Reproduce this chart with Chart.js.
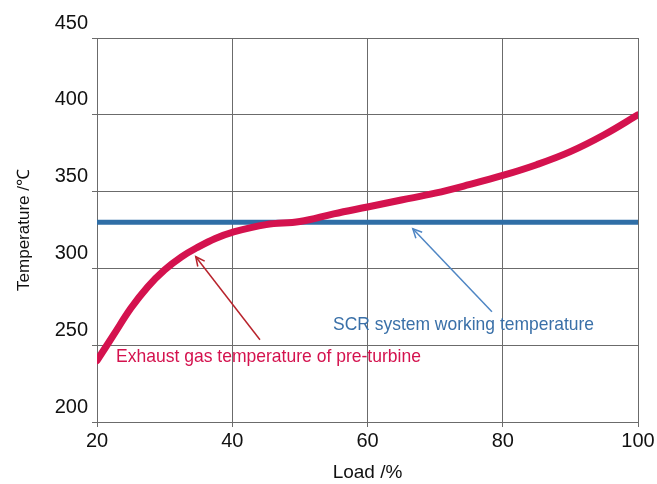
<!DOCTYPE html>
<html>
<head>
<meta charset="utf-8">
<script src="https://cdn.jsdelivr.net/npm/chart.js@4"></script>
<style>
  body { margin: 0; background: #fff; }
  #wrap { width: 657px; height: 484px; }
</style>
</head>
<body>
<div id="wrap"><canvas id="grafico" width="657" height="484"></canvas></div>
<script>
// load in %
const cargas = [20, 22.5, 25, 27.5, 30, 32.5, 35, 37.5, 40, 45, 50, 55, 60, 65, 70, 75, 80, 85, 90, 95, 100];
// exhaust gas temperature before turbine, degC
const tempEscape = [240, 257, 274, 288, 299, 307.5, 314, 319.5, 323.5, 328.5, 330.5, 335.5, 340, 344.5, 349, 354.5, 360.5, 367.5, 376, 387, 400];
// SCR working temperature
const cargasScr = [20, 100];
const tempScr = [330, 330];

const xTicks = [20, 40, 60, 80, 100];
const yTicks = [200, 250, 300, 350, 400, 450];

// labels + arrows (data coords)
const textoRojo = "Exhaust gas temperature of pre-turbine";
const textoAzul = "SCR system working temperature";
const flechaRoja = { desde: [44.1, 253.5], hasta: [34.6, 307.6] };
const flechaAzul = { desde: [78.4, 271.8], hasta: [66.7, 325.8] };
const posTextoRojo = [22.8, 242.5];
const posTextoAzul = [54.9, 263.3];

const rojo = "#d4124e";
const azul = "#2f6ea6";

function flecha(ctx, x1, y1, x2, y2, color){
  ctx.save();
  ctx.strokeStyle = color;
  ctx.lineWidth = 1.5;
  ctx.beginPath();
  ctx.moveTo(x1, y1);
  ctx.lineTo(x2, y2);
  ctx.stroke();
  const ang = Math.atan2(y2 - y1, x2 - x1);
  const l = 10;
  ctx.beginPath();
  ctx.moveTo(x2 - l * Math.cos(ang - 0.45), y2 - l * Math.sin(ang - 0.45));
  ctx.lineTo(x2, y2);
  ctx.lineTo(x2 - l * Math.cos(ang + 0.45), y2 - l * Math.sin(ang + 0.45));
  ctx.stroke();
  ctx.restore();
}

const anotaciones = {
  id: "anotaciones",
  afterDatasetsDraw(chart){
    const ctx = chart.ctx;
    const sx = chart.scales.x, sy = chart.scales.y;
    const px = v => sx.getPixelForValue(v);
    const py = v => sy.getPixelForValue(v);

    flecha(ctx, px(flechaRoja.desde[0]), py(flechaRoja.desde[1]), px(flechaRoja.hasta[0]), py(flechaRoja.hasta[1]), "#b8232c");
    flecha(ctx, px(flechaAzul.desde[0]), py(flechaAzul.desde[1]), px(flechaAzul.hasta[0]), py(flechaAzul.hasta[1]), "#4f86c4");

    ctx.save();
    ctx.font = "19px 'Liberation Sans', Arial, sans-serif";
    ctx.textBaseline = "middle";
    ctx.textAlign = "left";
    ctx.fillStyle = rojo;
    ctx.fillText(textoRojo, px(posTextoRojo[0]), py(posTextoRojo[1]), 305);
    ctx.fillStyle = "#3a70a8";
    ctx.fillText(textoAzul, px(posTextoAzul[0]), py(posTextoAzul[1]), 261);
    ctx.restore();
  }
};

const canvas = document.getElementById("grafico");
const grafica = {
  type: "line",
  data: {
    datasets: [
      {
        label: "SCR",
        data: cargasScr.map((c, i) => ({ x: c, y: tempScr[i] })),
        borderColor: azul,
        borderWidth: 5,
        pointRadius: 0,
        order: 2
      },
      {
        label: "Exhaust",
        data: cargas.map((c, i) => ({ x: c, y: tempEscape[i] })),
        borderColor: rojo,
        borderWidth: 7,
        borderCapStyle: "round",
        tension: 0.4,
        pointRadius: 0,
        order: 1
      }
    ]
  },
  plugins: [anotaciones],
  options: {
    responsive: false,
    animation: false,
    layout: { padding: { top: 38, right: 19, left: 0, bottom: 0 } },
    plugins: { legend: { display: false }, tooltip: { enabled: false } },
    scales: {
      x: {
        type: "linear",
        min: 20, max: 100,
        afterBuildTicks: s => { s.ticks = xTicks.map(v => ({ value: v })); },
        afterFit: s => { s.height = 62; },
        grid: { color: "#6b6b6b", lineWidth: 1, tickLength: 5 },
        border: { color: "#6b6b6b", width: 1 },
        ticks: { color: "#111", padding: 2, font: { size: 20, family: "'Liberation Sans', Arial, sans-serif" } },
        title: { display: true, text: "Load /%", color: "#111", padding: { top: 4, bottom: 0 }, font: { size: 19, family: "'Liberation Sans', Arial, sans-serif" } }
      },
      y: {
        type: "linear",
        min: 200, max: 450,
        afterBuildTicks: s => { s.ticks = yTicks.map(v => ({ value: v })); },
        afterFit: s => { s.width = 97; },
        grid: { color: "#6b6b6b", lineWidth: 1, tickLength: 5 },
        border: { color: "#6b6b6b", width: 1 },
        ticks: { color: "#111", padding: 4, labelOffset: -15, font: { size: 20, family: "'Liberation Sans', Arial, sans-serif" } },
        title: { display: true, text: "Temperature /℃", color: "#111", padding: { top: 14, bottom: 0 }, font: { size: 17, family: "'Liberation Sans', Arial, sans-serif" } }
      }
    }
  }
};
new Chart(canvas, grafica);
</script>
</body>
</html>
